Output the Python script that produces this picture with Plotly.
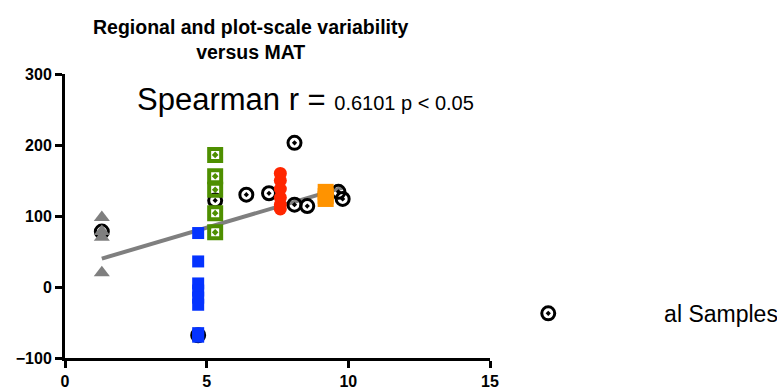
import plotly.graph_objects as go

# ---- data ----
all_x = [1.3, 4.7, 5.3, 6.4, 7.2, 8.1, 8.1, 8.55, 9.65, 9.8, 9.2]
all_y = [78, -68, 122, 130, 132, 203, 116, 114, 134, 124, 130]

tri_x = [1.3, 1.3, 1.3, 1.3]
tri_y = [98, 78, 70, 20]

blue_x = [4.7, 4.7, 4.7, 4.7, 4.7, 4.7, 4.7, 4.7]
blue_y = [76, 36, 5, -5, -15, -25, -65, -70]

green_x = [5.3, 5.3, 5.3, 5.3, 5.3]
green_y = [186, 156, 137, 104, 77]

red_x = [7.6, 7.6, 7.6, 7.6, 7.6, 7.6]
red_y = [160, 150, 138, 126, 116, 110]

orange_x = [9.2, 9.2, 9.2]
orange_y = [134, 128, 124]

fit_x = [1.3, 9.8]
fit_y = [40, 140]

x_ticks = [0, 5, 10, 15]
y_ticks = [-100, 0, 100, 200, 300]

FONT = "Liberation Sans, Arial, Helvetica, sans-serif"

fig = go.Figure()
fig.add_trace(go.Scatter(x=fit_x, y=fit_y, mode="lines",
                         line=dict(color="#7f7f7f", width=4), showlegend=False))
fig.add_trace(go.Scatter(x=all_x, y=all_y, mode="markers",
                         name="\u00a0" * 15 + "al Samples",
                         marker=dict(symbol="circle-open-dot", size=13, color="black",
                                     line=dict(width=3, color="black"))))
fig.add_trace(go.Scatter(x=tri_x, y=tri_y, mode="markers", showlegend=False,
                         marker=dict(symbol="triangle-up", size=14, color="#7f7f7f")))
fig.add_trace(go.Scatter(x=blue_x, y=blue_y, mode="markers", showlegend=False,
                         marker=dict(symbol="square", size=12, color="#0433FF")))
fig.add_trace(go.Scatter(x=green_x, y=green_y, mode="markers", showlegend=False,
                         marker=dict(symbol="square-open-dot", size=12, color="#4E8F00",
                                     line=dict(width=4, color="#4E8F00"))))
fig.add_trace(go.Scatter(x=red_x, y=red_y, mode="markers", showlegend=False,
                         marker=dict(symbol="circle", size=13, color="#FF2600")))
fig.add_trace(go.Scatter(x=orange_x, y=orange_y, mode="markers", showlegend=False,
                         marker=dict(symbol="square", size=16, color="#FF9300")))

axis_common = dict(showgrid=False, zeroline=False, showline=True, linecolor="black",
                   linewidth=3, ticks="outside", ticklen=7, tickwidth=3, tickcolor="black",
                   tickfont=dict(family=FONT, size=16, color="black", weight="bold"))

fig.update_xaxes(range=[0, 15], tickvals=x_ticks, **axis_common)
fig.update_yaxes(range=[-100, 300], tickvals=y_ticks, ticklabelstandoff=0, **axis_common)

fig.update_layout(
    width=777, height=389,
    margin=dict(l=65, r=287, t=74, b=31, autoexpand=False),
    plot_bgcolor="white", paper_bgcolor="white",
    font=dict(family=FONT, color="black"),
    showlegend=True,
    legend=dict(x=1.09, y=0.157, xanchor="left", yanchor="middle",
                font=dict(family=FONT, size=23, color="black"),
                bgcolor="rgba(0,0,0,0)"),
    annotations=[
        dict(text="<b>Regional and plot-scale variability<br>versus MAT</b>",
             xref="paper", yref="paper", x=(250 - 65) / 425, y=(358 - 39) / 284,
             xanchor="center", yanchor="middle", showarrow=False,
             font=dict(family=FONT, size=19.5, color="black")),
        dict(text="Spearman r = <span style='font-size:20px'>0.6101 p &lt; 0.05</span>",
             xref="paper", yref="paper", x=0.567, y=0.91,
             xanchor="center", yanchor="middle", showarrow=False,
             font=dict(family=FONT, size=31, color="black")),
    ],
)

fig.write_html("out.html", config={"displayModeBar": False},
               post_script="document.body.style.margin='0';document.body.style.padding='0';")
